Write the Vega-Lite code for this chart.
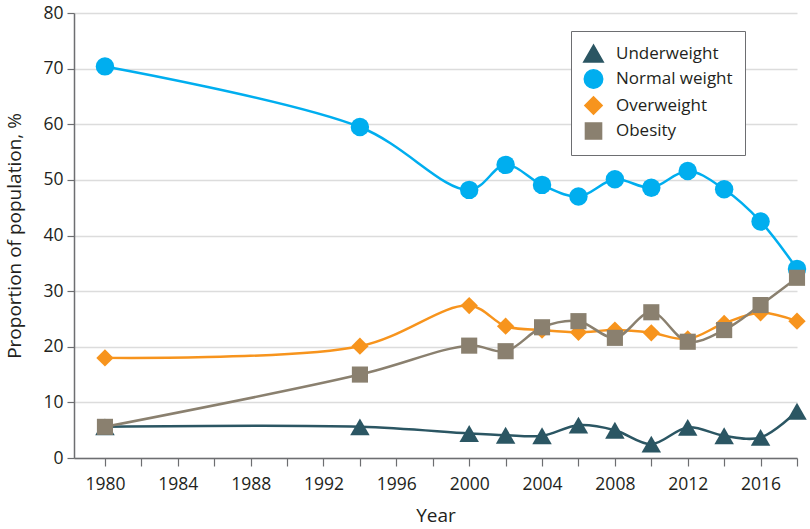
{
  "$schema": "https://vega.github.io/schema/vega-lite/v6.json",
  "autosize": {"type": "none"},
  "width": 723,
  "height": 445,
  "padding": {"left": 74, "top": 13, "right": 13, "bottom": 71},
  "background": "white",
  "config": {
    "font": "Open Sans",
    "view": {"stroke": null},
    "axis": {
      "labelFont": "Open Sans",
      "titleFont": "Open Sans",
      "labelColor": "#231f20",
      "titleColor": "#231f20",
      "labelFontSize": 17.5,
      "titleFontSize": 19,
      "titleFontWeight": "normal",
      "domainColor": "#6d6e71",
      "tickColor": "#6d6e71",
      "domainWidth": 1.5,
      "tickWidth": 1.2
    },
    "legend": {
      "title": null,
      "orient": "none",
      "legendX": 497,
      "legendY": 18,
      "padding": 12,
      "strokeColor": "#6d6e71",
      "fillColor": "white",
      "labelFont": "Open Sans",
      "labelFontSize": 17,
      "labelColor": "#231f20",
      "rowPadding": 1,
      "labelOffset": 12,
      "labelLimit": 300
    }
  },
  "data": {
    "values": [
      {"year": 1980, "group": "Underweight", "value": 5.6},
      {"year": 1994, "group": "Underweight", "value": 5.6},
      {"year": 2000, "group": "Underweight", "value": 4.4},
      {"year": 2002, "group": "Underweight", "value": 4.1},
      {"year": 2004, "group": "Underweight", "value": 4.0},
      {"year": 2006, "group": "Underweight", "value": 5.9},
      {"year": 2008, "group": "Underweight", "value": 5.0},
      {"year": 2010, "group": "Underweight", "value": 2.5},
      {"year": 2012, "group": "Underweight", "value": 5.5},
      {"year": 2014, "group": "Underweight", "value": 4.0},
      {"year": 2016, "group": "Underweight", "value": 3.7},
      {"year": 2018, "group": "Underweight", "value": 8.4},
      {"year": 1980, "group": "Normal weight", "value": 70.4},
      {"year": 1994, "group": "Normal weight", "value": 59.5},
      {"year": 2000, "group": "Normal weight", "value": 48.2},
      {"year": 2002, "group": "Normal weight", "value": 52.7},
      {"year": 2004, "group": "Normal weight", "value": 49.1},
      {"year": 2006, "group": "Normal weight", "value": 47.0},
      {"year": 2008, "group": "Normal weight", "value": 50.1},
      {"year": 2010, "group": "Normal weight", "value": 48.6},
      {"year": 2012, "group": "Normal weight", "value": 51.6},
      {"year": 2014, "group": "Normal weight", "value": 48.3},
      {"year": 2016, "group": "Normal weight", "value": 42.5},
      {"year": 2018, "group": "Normal weight", "value": 34.0},
      {"year": 1980, "group": "Overweight", "value": 18.0},
      {"year": 1994, "group": "Overweight", "value": 20.1},
      {"year": 2000, "group": "Overweight", "value": 27.4},
      {"year": 2002, "group": "Overweight", "value": 23.7},
      {"year": 2004, "group": "Overweight", "value": 23.0},
      {"year": 2006, "group": "Overweight", "value": 22.6},
      {"year": 2008, "group": "Overweight", "value": 23.0},
      {"year": 2010, "group": "Overweight", "value": 22.5},
      {"year": 2012, "group": "Overweight", "value": 21.4},
      {"year": 2014, "group": "Overweight", "value": 24.2},
      {"year": 2016, "group": "Overweight", "value": 26.1},
      {"year": 2018, "group": "Overweight", "value": 24.6},
      {"year": 1980, "group": "Obesity", "value": 5.6},
      {"year": 1994, "group": "Obesity", "value": 15.0},
      {"year": 2000, "group": "Obesity", "value": 20.2},
      {"year": 2002, "group": "Obesity", "value": 19.2},
      {"year": 2004, "group": "Obesity", "value": 23.5},
      {"year": 2006, "group": "Obesity", "value": 24.6},
      {"year": 2008, "group": "Obesity", "value": 21.6},
      {"year": 2010, "group": "Obesity", "value": 26.2},
      {"year": 2012, "group": "Obesity", "value": 20.9},
      {"year": 2014, "group": "Obesity", "value": 23.0},
      {"year": 2016, "group": "Obesity", "value": 27.5},
      {"year": 2018, "group": "Obesity", "value": 32.4}
    ]
  },
  "encoding": {
    "x": {
      "field": "year",
      "type": "quantitative",
      "scale": {"domain": [1978.3, 2018], "nice": false, "zero": false},
      "axis": {
        "title": "Year",
        "values": [1980, 1982, 1984, 1986, 1988, 1990, 1992, 1994, 1996, 1998, 2000, 2002, 2004, 2006, 2008, 2010, 2012, 2014, 2016, 2018],
        "labelExpr": "(datum.value - 1980) % 4 === 0 ? datum.value : ''",
        "grid": false,
        "tickSize": 8,
        "labelPadding": 9,
        "titlePadding": 14,
        "labelFlush": false,
        "labelOverlap": false
      }
    },
    "y": {
      "field": "value",
      "type": "quantitative",
      "scale": {"domain": [0, 80], "nice": false},
      "axis": {
        "title": "Proportion of population, %",
        "values": [0, 10, 20, 30, 40, 50, 60, 70, 80],
        "tickSize": 7,
        "labelPadding": 4,
        "titlePadding": 18,
        "gridColor": "#dcdcdc",
        "gridWidth": 1.5
      }
    },
    "color": {
      "field": "group",
      "type": "nominal",
      "scale": {
        "domain": ["Underweight", "Normal weight", "Overweight", "Obesity"],
        "range": ["#2b5663", "#00aeef", "#f7941d", "#8a806f"]
      }
    }
  },
  "layer": [
    {
      "mark": {"type": "line", "interpolate": "catmull-rom", "strokeWidth": 2.5},
      "encoding": {}
    },
    {
      "mark": {"type": "point", "filled": true, "opacity": 1},
      "encoding": {
        "shape": {
          "field": "group",
          "type": "nominal",
          "scale": {
            "domain": ["Underweight", "Normal weight", "Overweight", "Obesity"],
            "range": ["triangle-up", "circle", "diamond", "square"]
          }
        },
        "size": {
          "field": "group",
          "type": "nominal",
          "scale": {
            "domain": ["Underweight", "Normal weight", "Overweight", "Obesity"],
            "range": [380, 260, 440, 250]
          }
        }
      }
    }
  ]
}
